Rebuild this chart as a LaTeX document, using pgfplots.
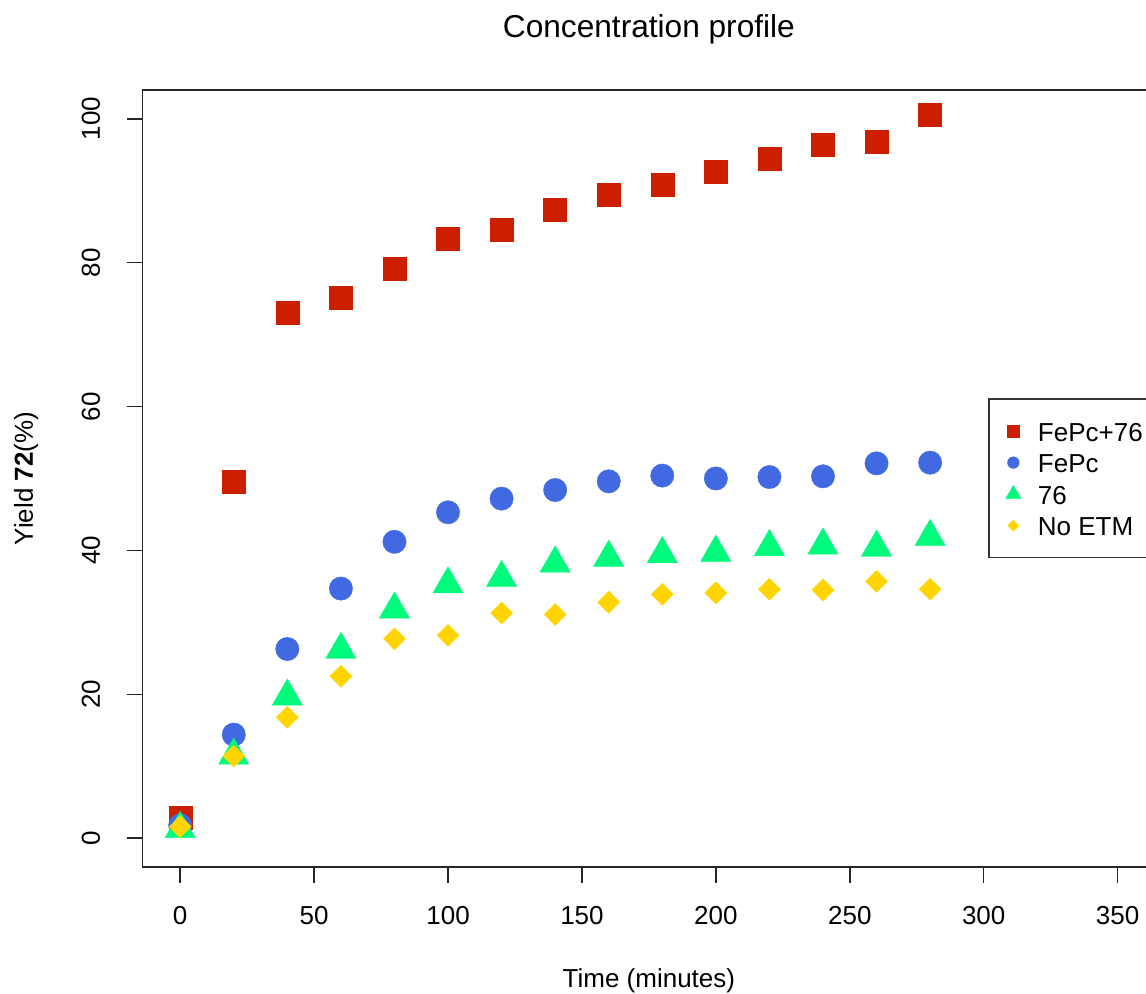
\documentclass[border=0pt]{standalone}
\usepackage{fontspec}
\setmainfont{Liberation Sans}
\usepackage{pgfplots}
\pgfplotsset{compat=1.18}

\definecolor{cRed}{RGB}{204,31,0}
\definecolor{cBlue}{RGB}{65,105,225}
\definecolor{cGreen}{RGB}{0,250,124}
\definecolor{cGold}{RGB}{255,212,0}

\begin{document}
\begin{tikzpicture}
\path[use as bounding box] (-14.27mm,-12.7mm) rectangle (100.33mm,86.7mm);
\clip (-14.27mm,-12.7mm) rectangle (100.33mm,86.7mm);
\begin{axis}[
  at={(0,0)}, anchor=south west,
  scale only axis,
  width=101.24mm, height=77.7mm,
  xmin=-14, xmax=364, ymin=-4, ymax=104,
  xtick={0,50,...,350}, ytick={0,20,...,100},
  tick pos=left, tick align=outside,
  major tick length=1.6mm,
  axis line style={black!85, line width=0.45pt},
  every tick/.style={black!85, line width=0.45pt},
  font=\fontsize{7.4}{8.9}\selectfont,
  /pgf/number format/assume math mode=true,
  xticklabel style={anchor=base, inner sep=0pt, yshift=-4.2mm},
  yticklabel style={xshift=-2.67mm, rotate=90, anchor=base, inner sep=0pt},
  title={Concentration profile},
  title style={font=\fontsize{9}{11}\selectfont, at={(axis description cs:0.5,1)}, anchor=base, yshift=3.09mm},
  xlabel={Time (minutes)},
  xlabel style={at={(axis description cs:0.5,0)}, anchor=base, yshift=-12.1mm},
  ylabel={Yield \textbf{72}(\%)},
  ylabel style={at={(axis description cs:-0.1084,0.5)}, rotate=0, anchor=base},
  legend style={
    at={(axis cs:301.6,61.14)}, anchor=north west,
    draw=black!80, line width=0.45pt,
    font=\fontsize{7.4}{8.9}\selectfont,
    inner xsep=1.7mm, inner ysep=1.8mm, row sep=0.35mm,
    nodes={inner sep=0pt, text height=2.43mm, text depth=0.37mm},
    /tikz/every odd column/.append style={column sep=1.7mm},
  },
  legend cell align=left,
  legend image post style={scale=0.5},
]
\addplot[only marks, color=cRed, mark=square*, mark size=1.15mm, mark options={line width=0.1pt}] coordinates {
  (0,2.9) (20,49.6) (40,73.0) (60,75.2) (80,79.1) (100,83.3) (120,84.6)
  (140,87.3) (160,89.4) (180,90.8) (200,92.7) (220,94.4) (240,96.4)
  (260,96.8) (280,100.5)
};
\addlegendentry{FePc+76}
\addplot[only marks, color=cBlue, mark=*, mark size=1.17mm, mark options={line width=0.1pt}] coordinates {
  (0,1.8) (20,14.4) (40,26.3) (60,34.7) (80,41.2) (100,45.3) (120,47.2)
  (140,48.4) (160,49.6) (180,50.4) (200,50.0) (220,50.2) (240,50.3)
  (260,52.1) (280,52.2)
};
\addlegendentry{FePc}
\addplot[only marks, color=cGreen, mark=triangle*, mark size=1.75mm, mark options={line width=0.1pt}] coordinates {
  (0,1.3) (20,11.5) (40,19.7) (60,26.2) (80,31.8) (100,35.3) (120,36.2)
  (140,38.2) (160,39.0) (180,39.5) (200,39.7) (220,40.5) (240,40.7)
  (260,40.4) (280,41.9)
};
\addlegendentry{76}
\addplot[only marks, color=cGold, mark=square*, mark size=0.78mm, mark options={line width=0.1pt, rotate=45}] coordinates {
  (0,1.6) (20,11.4) (40,16.8) (60,22.5) (80,27.7) (100,28.2) (120,31.3)
  (140,31.1) (160,32.8) (180,33.9) (200,34.1) (220,34.6) (240,34.5)
  (260,35.7) (280,34.6)
};
\addlegendentry{No ETM}
\end{axis}
\end{tikzpicture}
\end{document}
